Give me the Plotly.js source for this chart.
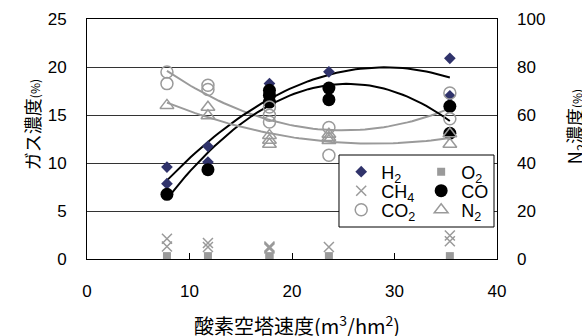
<!DOCTYPE html>
<html><head><meta charset="utf-8">
<script src="https://cdn.plot.ly/plotly-3.0.1.min.js"></script>
<style>html,body{margin:0;padding:0;background:#fff}</style>
</head><body><div id="chart" style="width:582px;height:336px"></div>
<script>
// Data
const h2X = [7.8,7.8,11.8,11.8,17.8,17.8,23.6,23.6,35.4,35.4];
const h2Y = [9.58,7.85,11.74,10.1,18.27,17.6,19.5,17.8,20.9,17.0];
const o2X = [7.8,11.8,17.8,17.8,23.6,35.4];
const o2Y = [0.3,0.3,0.3,0.2,0.3,0.3];
const ch4X = [7.8,7.8,11.8,11.8,17.8,17.8,17.8,23.6,35.4,35.4];
const ch4Y = [2.1,1.3,1.67,1.25,1.3,1.2,1.1,1.25,2.45,1.85];
const coX = [7.8,11.8,17.8,17.8,17.8,23.6,23.6,35.4,35.4];
const coY = [6.74,9.3,17.57,17.05,16.35,17.8,16.6,15.9,13.1];
const co2X = [7.8,7.8,11.8,11.8,17.8,17.8,17.8,23.6,23.6,35.4,35.4];
const co2Y = [19.48,18.27,18.1,17.65,15.83,14.97,14.27,13.7,10.8,17.3,14.6];
const n2X = [7.8,11.8,11.8,17.8,17.8,17.8,23.6,23.6,23.6,35.4,35.4];
const n2Y = [64.0,63.2,59.7,51.5,49.5,47.8,52.0,50.6,49.4,52.2,47.8];
const leftTicks = [0,5,10,15,20,25];
const rightTicks = [0,20,40,60,80,100];
const xTicks = [0,10,20,30,40];

// quadratic least-squares trend line (like a spreadsheet polynomial trendline)
function quadFit(xs, ys) {
  let S = [0,0,0,0,0], T = [0,0,0];
  for (let i = 0; i < xs.length; i++) {
    let p = 1;
    for (let k = 0; k < 5; k++) { S[k] += p; if (k < 3) T[k] += p * ys[i]; p *= xs[i]; }
  }
  const A = [[S[0],S[1],S[2],T[0]],[S[1],S[2],S[3],T[1]],[S[2],S[3],S[4],T[2]]];
  for (let c = 0; c < 3; c++) {
    for (let r = c + 1; r < 3; r++) {
      const f = A[r][c] / A[c][c];
      for (let k = c; k < 4; k++) A[r][k] -= f * A[c][k];
    }
  }
  const b = [0,0,0];
  for (let r = 2; r >= 0; r--) {
    let s = A[r][3];
    for (let k = r + 1; k < 3; k++) s -= A[r][k] * b[k];
    b[r] = s / A[r][r];
  }
  const lo = Math.min(...xs), hi = Math.max(...xs);
  const tx = [], ty = [];
  for (let i = 0; i <= 60; i++) {
    const x = lo + (hi - lo) * i / 60;
    tx.push(x); ty.push(b[0] + b[1]*x + b[2]*x*x);
  }
  return {x: tx, y: ty};
}

const gray = '#9a9a9a';
const fH2 = quadFit(h2X, h2Y), fCO = quadFit(coX, coY), fCO2 = quadFit(co2X, co2Y), fN2 = quadFit(n2X, n2Y);

const traces = [
  {x: fCO2.x, y: fCO2.y, mode:'lines', line:{color:gray, width:2}, showlegend:false, hoverinfo:'skip'},
  {x: fN2.x, y: fN2.y, yaxis:'y2', mode:'lines', line:{color:gray, width:2}, showlegend:false, hoverinfo:'skip'},
  {x: fH2.x, y: fH2.y, mode:'lines', line:{color:'#000', width:2}, showlegend:false, hoverinfo:'skip'},
  {x: fCO.x, y: fCO.y, mode:'lines', line:{color:'#000', width:2}, showlegend:false, hoverinfo:'skip'},
  {name:'H<sub>2</sub>', legend:'legend', x:h2X, y:h2Y, mode:'markers', marker:{symbol:'diamond', size:9, color:'#30336b'}},
  {name:'O<sub>2</sub>', legend:'legend2', x:o2X, y:o2Y, mode:'markers', marker:{symbol:'square', size:8, color:gray}},
  {name:'CH<sub>4</sub>', legend:'legend3', x:ch4X, y:ch4Y, mode:'markers', marker:{symbol:'x-thin-open', size:10, color:gray, line:{color:gray, width:1.5}}},
  {name:'CO', legend:'legend4', x:coX, y:coY, mode:'markers', marker:{symbol:'circle', size:13, color:'#000'}},
  {name:'CO<sub>2</sub>', legend:'legend5', x:co2X, y:co2Y, mode:'markers', marker:{symbol:'circle-open', size:12, color:gray, line:{color:gray, width:1.5}}},
  {name:'N<sub>2</sub>', legend:'legend6', x:n2X, y:n2Y, yaxis:'y2', mode:'markers', marker:{symbol:'triangle-up-open', size:12, color:gray, line:{color:gray, width:1.5}}}
];

const tickFont = {family:'Liberation Sans, Arial, sans-serif', size:17, color:'#000'};
const legFont = {family:'Liberation Sans, Arial, sans-serif', size:18, color:'#000'};
function leg(x, y) {
  return {x:x, y:y, xanchor:'left', yanchor:'middle', bgcolor:'rgba(0,0,0,0)', borderwidth:0, font:legFont, itemwidth:30};
}
const c1 = 0.620, c2 = 0.815, r1 = 0.3625, r2 = 0.2833, r3 = 0.2042;
const layout = {
  width:582, height:336,
  margin:{l:87, r:85, t:19, b:77},
  paper_bgcolor:'#fff', plot_bgcolor:'#fff',
  showlegend:true,
  legend:leg(c1, r1), legend2:leg(c2, r1),
  legend3:leg(c1, r2), legend4:leg(c2, r2),
  legend5:leg(c1, r3), legend6:leg(c2, r3),
  xaxis:{range:[0,40], tickvals:xTicks, ticktext:xTicks.map(String), showgrid:false, zeroline:false,
    showline:true, linecolor:'#000', linewidth:1, mirror:true,
    ticks:'inside', ticklen:6, tickcolor:'#000', tickfont:tickFont, ticklabelstandoff:17},
  yaxis:{range:[0,25], tickvals:leftTicks, ticktext:leftTicks.map(String), showgrid:true, gridcolor:'#333', gridwidth:1,
    zeroline:false, showline:true, linecolor:'#000', linewidth:1, mirror:true,
    ticks:'', tickfont:tickFont, ticklabelstandoff:16},
  yaxis2:{range:[0,100], tickvals:rightTicks, ticktext:rightTicks.map(String), overlaying:'y', side:'right',
    showgrid:false, zeroline:false, showline:false, ticks:'', tickfont:tickFont, ticklabelstandoff:19},
  shapes:[
    {type:'rect', xref:'paper', yref:'paper', x0:0.6146, x1:0.9927, y0:0.1333, y1:0.4333,
     line:{color:'#000', width:1}, fillcolor:'#fff', layer:'above'}
  ],
  annotations:[
    {text:'ガス濃度<span style="font-size:12px">(%)</span>', xref:'paper', yref:'paper', x:-0.134, y:0.558, textangle:-90,
     showarrow:false, font:{family:'Noto Sans CJK JP', size:18, color:'#000'}, xanchor:'center', yanchor:'middle'},
    {text:'N<sub>2</sub>濃度<span style="font-size:12px">(%)</span>', xref:'paper', yref:'paper', x:1.193, y:0.55, textangle:-90,
     showarrow:false, font:{family:'Noto Sans CJK JP', size:18, color:'#000'}, xanchor:'center', yanchor:'middle'},
    {text:'酸素空塔速度(m<sup>3</sup>/hm<sup>2</sup>)', xref:'paper', yref:'paper', x:0.512, y:-0.275,
     showarrow:false, font:{family:'Noto Sans CJK JP', size:20, color:'#000'}, xanchor:'center', yanchor:'middle'}
  ]
};
Plotly.newPlot('chart', traces, layout, {displayModeBar:false, staticPlot:true});
</script></body></html>
